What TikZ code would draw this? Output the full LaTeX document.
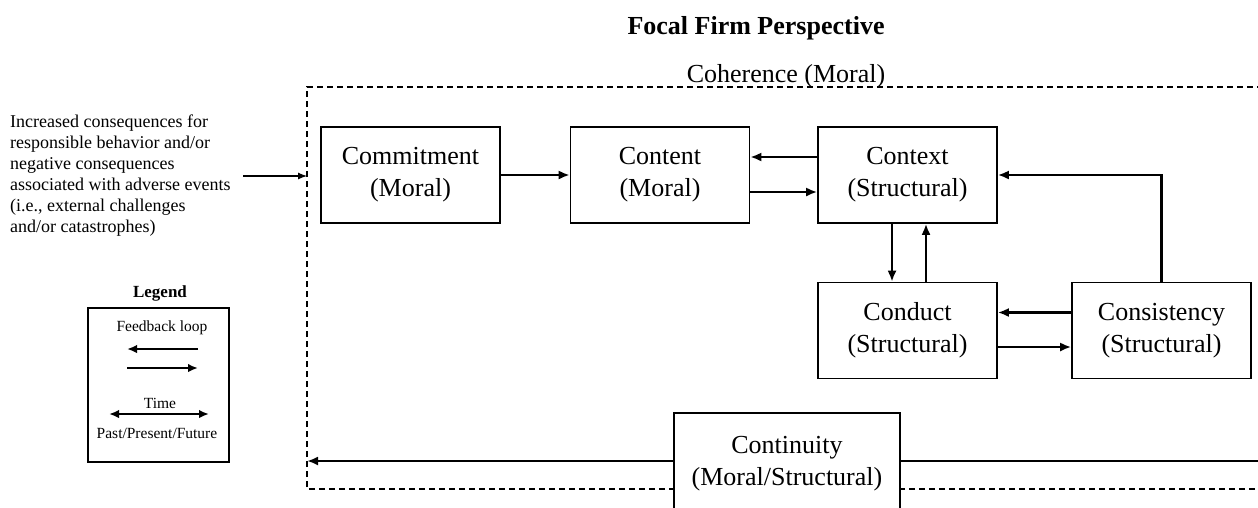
\documentclass[tikz,border=0pt]{standalone}
\usepackage{fontspec}
\setmainfont{Liberation Serif}
\usetikzlibrary{arrows.meta}
\begin{document}
\begin{tikzpicture}[x=1pt,y=-1pt,
  box/.style={draw,line width=1.6pt,minimum width=179pt,minimum height=96pt,align=center,
    font=\fontsize{26}{32}\selectfont,fill=white,inner sep=0pt},
  arr/.style={line width=2.2pt,-{Latex[length=11pt,width=9pt]}},
  thinarr/.style={line width=1.1pt,-{Latex[length=9pt,width=7pt]}},
  lgarr/.style={line width=2.2pt,-{Latex[length=10pt,width=8.5pt]}},
  frame/.style={line width=1.5pt,dash pattern=on 6pt off 4pt},
  small/.style={font=\fontsize{15.5}{18}\selectfont,inner sep=0pt}]
\useasboundingbox (0,0) rectangle (1258,507);
\clip (0,0) rectangle (1258,507);
% title
\node[font=\bfseries\fontsize{26}{30}\selectfont] (title) at (756,28) {Focal Firm Perspective};
% dashed frame
\draw[frame] (1275,489) -- (307,489) -- (307,87) -- (1275,87);
\node[font=\fontsize{26}{30}\selectfont,inner sep=0pt] (coh) at (786,76) {Coherence (Moral)};
\coordinate (frameL) at (307,176);
\coordinate (frameLb) at (307,461);
\coordinate (inStart) at (243,176);
\coordinate (rightEnd) at (1262,461);
% input text
\node[anchor=west,align=left,inner sep=0pt,font=\fontsize{18}{21}\selectfont] (input) at (10,176)
  {Increased consequences for\\responsible behavior and/or\\negative consequences\\associated with adverse events\\(i.e., external challenges\\and/or catastrophes)};
\draw[thinarr] (inStart) -- (frameL);
% boxes
\node[box] (commit) at (410.5,175) {Commitment\\(Moral)};
\node[box] (content) at (660,175) {Content\\(Moral)};
\node[box] (context) at (907.5,175) {Context\\(Structural)};
\node[box] (conduct) at (907.5,330.5) {Conduct\\(Structural)};
\node[box] (consist) at (1161.5,330.5) {Consistency\\(Structural)};
\node[box,minimum width=226pt,minimum height=102pt] (contin) at (787,464) {Continuity\\(Moral/Structural)};
% arrows
\draw[arr] (commit.east) -- (content.west);
\draw[arr] (context.west|-0,157) -- (content.east|-0,157);
\draw[arr] (content.east|-0,192) -- (context.west|-0,192);
\draw[arr] (context.south-|892,0) -- (conduct.north-|892,0);
\draw[arr] (conduct.north-|926,0) -- (context.south-|926,0);
\draw[arr] (consist.west|-0,312.5) -- (conduct.east|-0,312.5);
\draw[arr] (conduct.east|-0,347) -- (consist.west|-0,347);
\draw[arr] (consist.north) |- (context.east);
\draw[arr] (contin.west|-0,461) -- (frameLb);
\draw[line width=2.2pt] (contin.east|-0,461) -- (rightEnd);
% legend
\node[font=\bfseries\fontsize{17}{20}\selectfont] (lgtitle) at (160,293) {Legend};
\node[draw,line width=1.3pt,minimum width=141pt,minimum height=154pt,inner sep=0pt] (legend) at (158.5,385) {};
\node[small] (fb) at (162,328) {Feedback loop};
\coordinate (la1) at (198,349);
\coordinate (la2) at (127,349);
\coordinate (ra1) at (127,368);
\coordinate (ra2) at (198,368);
\draw[lgarr] (la1) -- (la2);
\draw[lgarr] (ra1) -- (ra2);
\node[small] (time) at (160,403) {Time};
\coordinate (ta1) at (109,414);
\coordinate (ta2) at (209,414);
\draw[line width=2.2pt,{Latex[length=10pt,width=8.5pt]}-{Latex[length=10pt,width=8.5pt]}] (ta1) -- (ta2);
\node[small] (ppf) at (157,433) {Past/Present/Future};
\end{tikzpicture}
\end{document}
